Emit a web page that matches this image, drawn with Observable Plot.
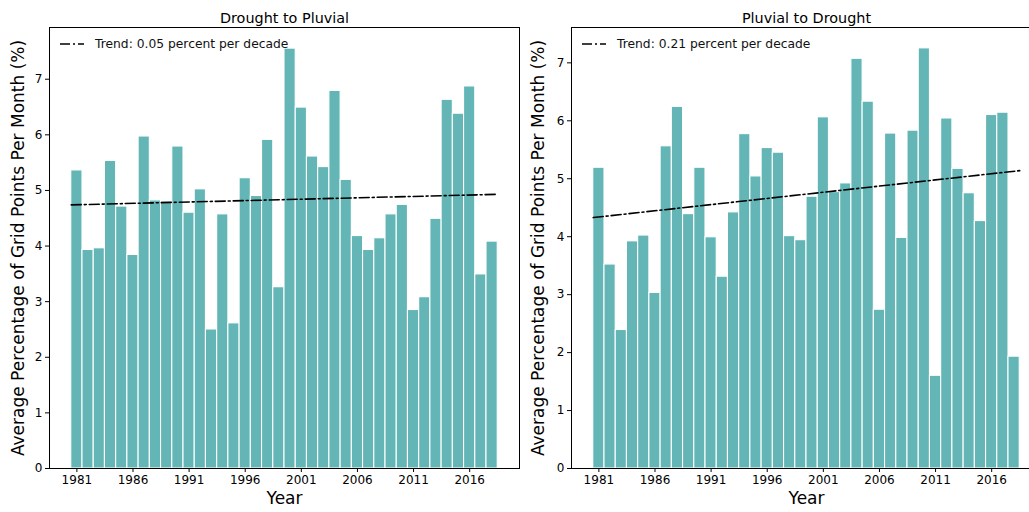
<!DOCTYPE html>
<html><head><meta charset="utf-8">
<script src="https://cdn.jsdelivr.net/npm/d3@7"></script>
<script src="https://cdn.jsdelivr.net/npm/@observablehq/plot@0.6"></script>
<style>
html,body{margin:0;padding:0;background:#fff;overflow:hidden;}
#wrap{position:relative;width:1029px;height:512px;overflow:hidden;font-family:"DejaVu Sans",sans-serif;}
.panel{position:absolute;top:0;}
.panel svg{max-width:none !important;}
.legend{position:absolute;display:flex;align-items:center;font-size:12.3px;color:#111;white-space:nowrap;}
.legend svg{margin-right:11px;}
</style></head><body><div id="wrap"></div>
<script>
const years = [1981,1982,1983,1984,1985,1986,1987,1988,1989,1990,1991,1992,1993,1994,1995,1996,1997,1998,1999,2000,
  2001,2002,2003,2004,2005,2006,2007,2008,2009,2010,2011,2012,2013,2014,2015,2016,2017,2018];
const droughtToPluvial = [5.36,3.93,3.96,5.53,4.71,3.84,5.97,4.82,4.80,5.79,4.60,5.02,2.50,4.57,2.61,5.22,4.90,5.91,3.26,7.55,
  6.49,5.61,5.42,6.79,5.19,4.18,3.93,4.14,4.57,4.74,2.85,3.08,4.49,6.63,6.38,6.87,3.49,4.08];
const pluvialToDrought = [5.19,3.52,2.39,3.92,4.02,3.03,5.56,6.24,4.39,5.19,3.99,3.31,4.42,5.77,5.04,5.53,5.45,4.01,3.94,4.69,
  6.06,4.77,4.92,7.07,6.33,2.74,5.78,3.98,5.83,7.25,1.60,6.04,5.17,4.75,4.27,6.10,6.14,1.93];
const xTicks = [1981,1986,1991,1996,2001,2006,2011,2016];
const yTicks = [0,1,2,3,4,5,6,7];
const titles = ["Drought to Pluvial","Pluvial to Drought"];
const trendLabels = ["Trend: 0.05 percent per decade","Trend: 0.21 percent per decade"];
const trendYears = [1980.5, 2018.5];
const trendD2P = [4.74, 4.93];
const trendP2D = [4.33, 5.14];
const xLabel = "Year";
const yLabel = "Average Percentage of Grid Points Per Month (%)";

const FILL = "#64b5b5";
const FONT = "DejaVu Sans, sans-serif";
const wrap = document.getElementById("wrap");

function panel({values, trend, title, legend, yMax, left, width, marginLeft, marginRight, ylabDx}) {
  const data = years.map((year, i) => ({year, value: values[i]}));
  const trendData = trendYears.map((year, i) => ({year, value: trend[i]}));
  const chart = Plot.plot({
    width, height: 512,
    marginLeft, marginRight, marginTop: 27, marginBottom: 44,
    style: {fontFamily: FONT, background: "transparent", color: "#000", overflow: "visible", maxWidth: "none"},
    x: {type: "linear", domain: [1978.56, 2020.44], axis: null},
    y: {domain: [0, yMax], axis: null},
    marks: [
      Plot.rect(data, {x1: d => d.year - 0.5, x2: d => d.year + 0.5, y1: 0, y2: "value",
        fill: FILL, stroke: "white", strokeWidth: 1.1}),
      Plot.line(trendData, {x: "year", y: "value", stroke: "#000", strokeWidth: 1.6,
        strokeDasharray: "10,3,2,3"}),
      Plot.axisX(xTicks, {tickSize: 4, tickPadding: 3, fontSize: 12, tickFormat: d => String(d), label: null}),
      Plot.axisY(yTicks, {tickSize: 4, tickPadding: 3, fontSize: 12, tickFormat: d => String(d), label: null}),
      Plot.frame({stroke: "#000", strokeWidth: 1}),
      Plot.text([title], {text: d => d, frameAnchor: "top", dy: -15, fontSize: 14.4}),
      Plot.text([xLabel], {text: d => d, frameAnchor: "bottom", dy: 35, fontSize: 17}),
      Plot.text([yLabel], {text: d => d, frameAnchor: "left", textAnchor: "middle", dx: ylabDx, rotate: -90, fontSize: 17})
    ]
  });
  const div = document.createElement("div");
  div.className = "panel";
  div.style.left = left + "px";
  div.style.width = width + "px";
  div.appendChild(chart);
  wrap.appendChild(div);

  const lg = document.createElement("div");
  lg.className = "legend";
  lg.style.left = (left + marginLeft + 11) + "px";
  lg.style.top = "36px";
  lg.innerHTML = `<svg width="24" height="16"><line x1="0" x2="24" y1="8" y2="8" stroke="#000" stroke-width="1.6" stroke-dasharray="10,3,2,3"/></svg><span>${legend}</span>`;
  wrap.appendChild(lg);
}

panel({values: droughtToPluvial, trend: trendD2P, title: titles[0], legend: trendLabels[0], yMax: 7.93,
  left: 0, width: 525, marginLeft: 49, marginRight: 6, ylabDx: -31});
panel({values: pluvialToDrought, trend: trendP2D, title: titles[1], legend: trendLabels[1], yMax: 7.61,
  left: 525, width: 525, marginLeft: 46, marginRight: 9, ylabDx: -33});
</script></body></html>
